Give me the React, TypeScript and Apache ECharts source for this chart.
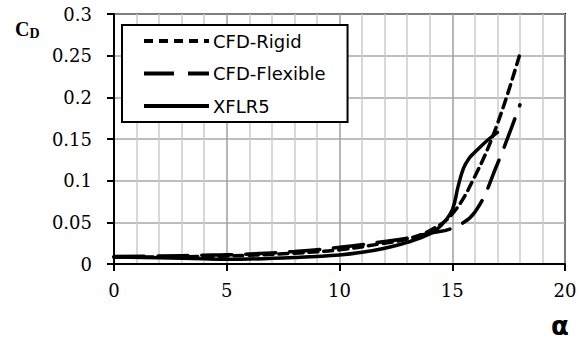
import React, { useEffect, useRef } from "react";
import * as echarts from "echarts";

const rigidAlpha = [0, 2, 4, 6, 8, 10, 12, 13, 14, 15, 16, 17, 18];
const rigidCd = [0.008, 0.0085, 0.009, 0.0105, 0.013, 0.017, 0.025, 0.03, 0.04, 0.06, 0.105, 0.168, 0.252];

const flexAlpha = [0, 2, 4, 5, 6, 8, 10, 12, 13, 14, 15, 16, 17, 18];
const flexCd = [0.009, 0.0095, 0.0105, 0.011, 0.012, 0.015, 0.02, 0.027, 0.031, 0.037, 0.043, 0.062, 0.12, 0.191];

const xflrAlpha = [0, 2, 4, 5, 6, 8, 10, 11, 12, 13, 14, 14.5, 15, 15.25, 15.5, 15.75, 16, 16.5, 17];
const xflrCd = [0.0084, 0.0075, 0.0062, 0.0058, 0.006, 0.0078, 0.0108, 0.014, 0.019, 0.026, 0.036, 0.046, 0.065, 0.092, 0.115, 0.127, 0.134, 0.147, 0.158];

const seriesNames = ["CFD-Rigid", "CFD-Flexible", "XFLR5"];

const pairs = (xs: number[], ys: number[]) => xs.map((x, i) => [x, ys[i]]);

export default function App() {
  const ref = useRef<HTMLDivElement>(null);
  useEffect(() => {
    if (!ref.current) return;
    const chart = echarts.init(ref.current, undefined, { renderer: "svg" });
    const serif = "DejaVu Serif";
    chart.setOption({
      animation: false,
      backgroundColor: "#fff",
      grid: {
        left: 114,
        right: 17,
        top: 14,
        bottom: 81,
        show: true,
        borderColor: "#000",
        borderWidth: 2,
        backgroundColor: "transparent",
      },
      xAxis: {
        type: "value",
        min: 0,
        max: 20,
        interval: 5,
        axisLine: { show: true, lineStyle: { color: "#000", width: 2 } },
        axisTick: { show: true, length: 7, lineStyle: { color: "#000", width: 2 } },
        axisLabel: { color: "#000", fontFamily: serif, fontSize: 18, margin: 17 },
        splitLine: { show: true, lineStyle: { color: "#a0a0a0", width: 1.5 } },
        minorTick: { show: false, splitNumber: 5 },
        minorSplitLine: { show: true, lineStyle: { color: "#cbcbcb", width: 1.5 } },
      },
      yAxis: {
        type: "value",
        min: 0,
        max: 0.3,
        interval: 0.05,
        axisLine: { show: true, lineStyle: { color: "#000", width: 2 } },
        axisTick: { show: true, length: 7, lineStyle: { color: "#000", width: 2 } },
        axisLabel: { color: "#000", fontFamily: serif, fontSize: 18, margin: 22 },
        splitLine: { show: true, lineStyle: { color: "#a8a8a8", width: 1.5 } },
      },
      legend: {
        orient: "vertical",
        left: 122,
        top: 25,
        padding: [7, 22, 7, 20],
        itemWidth: 65,
        itemHeight: 18,
        itemGap: 14.5,
        backgroundColor: "#fff",
        borderColor: "#000",
        borderWidth: 2,
        borderRadius: 0,
        itemStyle: { opacity: 0 },
        lineStyle: { width: 4, color: "#000", cap: "butt" },
        textStyle: { color: "#000", fontFamily: "DejaVu Sans", fontSize: 18, padding: [0, 0, 0, -1] },
        data: seriesNames,
      },
      graphic: [
        {
          type: "text",
          left: 15,
          top: 19,
          style: {
            rich: {
              c: { fontFamily: "Liberation Serif", fontWeight: "bold", fontSize: 20, fill: "#000" },
              d: { fontFamily: "Liberation Serif", fontWeight: "bold", fontSize: 14, fill: "#000", padding: [8, 0, 0, 0] },
            },
            text: "{c|C}{d|D}",
          },
        },
        {
          type: "text",
          left: 551,
          top: 313,
          style: {
            text: "α",
            fontFamily: "DejaVu Sans",
            fontWeight: "bold",
            fontSize: 26,
            fill: "#000",
          },
        },
      ],
      series: [
        {
          name: seriesNames[0],
          type: "line",
          data: pairs(rigidAlpha, rigidCd),
          smooth: 0.4,
          symbol: "none",
          z: 3,
          lineStyle: { color: "#000", width: 3.5, type: [9, 6], cap: "round" },
          itemStyle: { color: "#000" },
        },
        {
          name: seriesNames[1],
          type: "line",
          data: pairs(flexAlpha, flexCd),
          smooth: 0.4,
          symbol: "none",
          z: 3,
          lineStyle: { color: "#000", width: 3.5, type: [30, 14], cap: "round" },
          itemStyle: { color: "#000" },
        },
        {
          name: seriesNames[2],
          type: "line",
          data: pairs(xflrAlpha, xflrCd),
          smooth: 0.4,
          symbol: "none",
          z: 3,
          lineStyle: { color: "#000", width: 3.5, cap: "round" },
          itemStyle: { color: "#000" },
        },
      ],
    });
    return () => chart.dispose();
  }, []);
  return <div ref={ref} style={{ width: 582, height: 345, position: "absolute", left: 0, top: 0 }} />;
}
